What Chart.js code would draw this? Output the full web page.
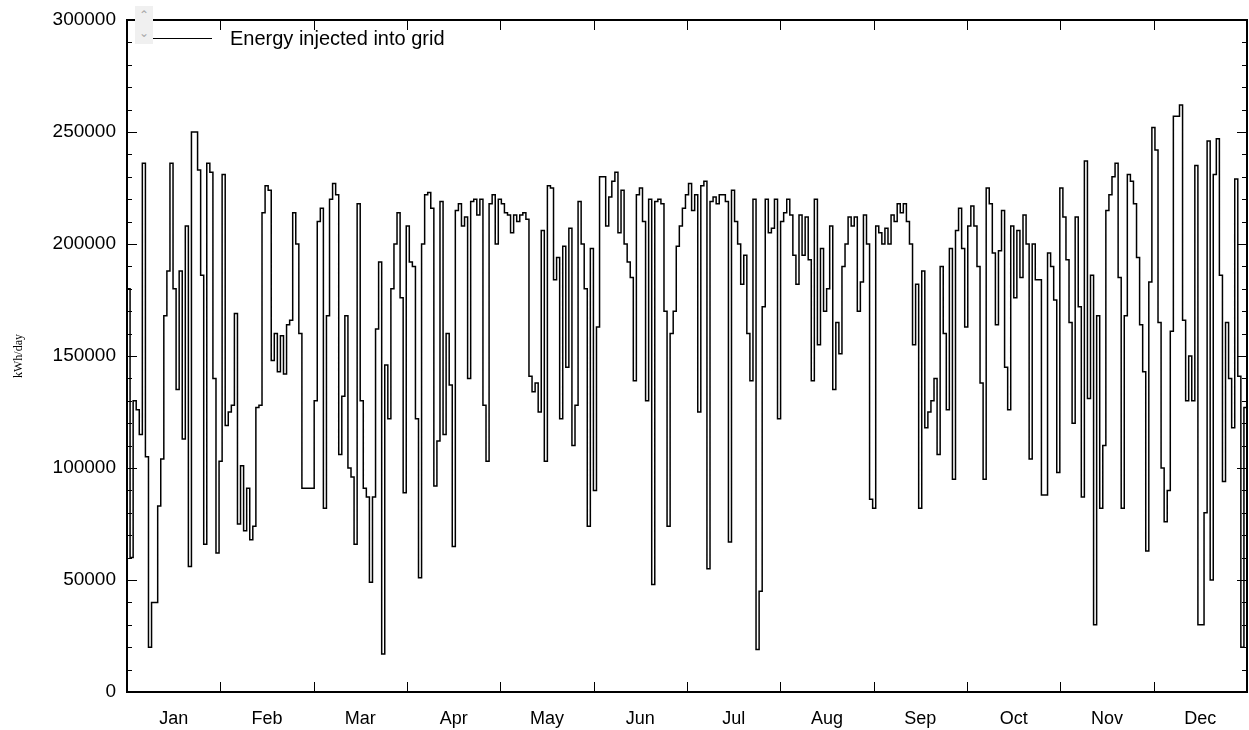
<!DOCTYPE html>
<html lang="en">
<head>
<meta charset="UTF-8">
<title>Energy injected into grid</title>
<script src="https://cdn.jsdelivr.net/npm/chart.js"></script>
<style>
  body {margin:0;background:#fff;font-family:'Liberation Sans',Arial,sans-serif;}
  .wrap {position:relative;width:1249px;height:730px;}
  .legend {position:absolute;left:152px;top:27px;display:flex;align-items:center;font-size:20px;color:#000;}
  .legend .ln {width:60px;height:0;border-top:1.5px solid #000;margin-right:18px;}
  .spin {position:absolute;left:135px;top:6px;width:18px;height:38px;background:#f0f0f0;color:#aaa;font-size:12px;line-height:18px;text-align:center;z-index:2;}
</style>
</head>
<body>
<div class="wrap">
  <canvas id="chart" width="1249" height="730"></canvas>
  <div class="spin">&#8963;<br>&#8964;</div>
  <div class="legend"><span class="ln"></span>Energy injected into grid</div>
</div>
<script>
// daily energy injected into grid, kWh/day
const jan = [180000,60000,130000,126000,115000,236000,105000,20000,40000,40000,83000,104000,168000,188000,236000,180000,135000,188000,113000,208000,56000,250000,250000,233000,186000,66000,236000,232000,140000,62000,103000];
const feb = [231000,119000,125000,128000,169000,75000,101000,72000,91000,68000,74000,127000,128000,214000,226000,224000,148000,160000,143000,159000,142000,164000,166000,214000,200000,160000,91000,91000];
const mar = [91000,91000,130000,210000,216000,82000,168000,220000,227000,222000,106000,132000,168000,100000,96000,66000,218000,130000,91000,87000,49000,87000,162000,192000,17000,146000,122000,180000,200000,214000,176000,89000];
const apr = [208000,192000,190000,122000,51000,200000,222000,223000,216000,92000,112000,219000,115000,160000,137000,65000,215000,218000,208000,212000,140000,219000,220000,213000,220000,128000,103000,218000,222000,200000,220000];
const may = [218000,214000,213000,205000,213000,210000,213000,214000,211000,141000,134000,138000,125000,206000,103000,226000,225000,184000,194000,122000,199000,145000,207000,110000,128000,219000,200000,180000,74000,198000,90000];
const jun = [163000,230000,230000,208000,221000,228000,232000,205000,224000,200000,192000,185000,139000,222000,225000,210000,130000,220000,48000,219000,220000,218000,170000,74000,160000,170000,199000,208000,216000,222000];
const jul = [227000,215000,222000,125000,226000,228000,55000,219000,221000,218000,222000,222000,219000,67000,224000,210000,200000,182000,195000,160000,139000,220000,19000,45000,172000,220000,205000,207000,220000,122000,210000];
const aug = [214000,220000,213000,195000,182000,213000,195000,212000,193000,139000,220000,155000,198000,170000,180000,208000,135000,165000,151000,190000,200000,212000,208000,212000,170000,183000,213000,200000,86000,82000];
const sep = [208000,205000,200000,207000,200000,213000,210000,218000,214000,218000,210000,200000,155000,182000,82000,188000,118000,125000,130000,140000,106000,190000,160000,126000,198000,95000,206000,216000,198000,163000];
const oct = [208000,217000,208000,190000,138000,95000,225000,218000,196000,164000,197000,215000,145000,126000,208000,176000,206000,185000,213000,200000,104000,200000,184000,184000,88000,88000,196000,190000,175000,98000,225000];
const nov = [212000,193000,165000,120000,212000,172000,87000,237000,131000,186000,30000,168000,82000,110000,215000,222000,230000,236000,185000,82000,168000,231000,228000,218000,194000,164000,143000,63000,183000,252000];
const dec = [242000,165000,100000,76000,90000,161000,257000,257000,262000,166000,130000,150000,130000,235000,30000,30000,80000,246000,50000,231000,247000,186000,94000,165000,140000,118000,229000,141000,20000,127000];

const monthLabels = ['Jan','Feb','Mar','Apr','May','Jun','Jul','Aug','Sep','Oct','Nov','Dec'];
const yTicks = [0,50000,100000,150000,200000,250000,300000];

const daily = [].concat(jan,feb,mar,apr,may,jun,jul,aug,sep,oct,nov,dec);
const nDays = daily.length;
const pts = daily.map((v,i)=>({x:i,y:v}));
pts.push({x:nDays,y:daily[nDays-1]}); // close the last step
const monthW = nDays/12;

// frame + inward tick marks like the original
const frameTicks = {
  id:'frameTicks',
  afterDraw(chart){
    const {ctx, chartArea:a, scales:{x,y}} = chart;
    ctx.save();
    ctx.strokeStyle='#000';
    ctx.lineWidth=1;
    ctx.beginPath();
    for(let v=0; v<=300000; v+=10000){
      const py = Math.round(y.getPixelForValue(v))+0.5;
      const len = v%50000===0 ? 10 : 5;
      ctx.moveTo(a.left,py); ctx.lineTo(a.left+len,py);
      ctx.moveTo(a.right,py); ctx.lineTo(a.right-len,py);
    }
    for(let m=1; m<12; m++){
      const px = Math.round(x.getPixelForValue(m*monthW))+0.5;
      ctx.moveTo(px,a.bottom); ctx.lineTo(px,a.bottom-10);
      ctx.moveTo(px,a.top); ctx.lineTo(px,a.top+10);
    }
    ctx.stroke();
    ctx.lineWidth=2;
    ctx.strokeRect(a.left,a.top,a.right-a.left,a.bottom-a.top);
    ctx.restore();
  }
};

new Chart(document.getElementById('chart'), {
  type:'line',
  data:{datasets:[{
    label:'Energy injected into grid',
    data:pts,
    stepped:true,
    borderColor:'#000',
    borderWidth:1.5,
    pointRadius:0,
    fill:false
  }]},
  options:{
    responsive:false,
    animation:false,
    layout:{padding:{top:20,right:2,left:0,bottom:0}},
    plugins:{legend:{display:false},tooltip:{enabled:false}},
    scales:{
      x:{
        type:'linear', min:0, max:nDays,
        grid:{display:false}, border:{display:false},
        afterBuildTicks:s=>{ s.ticks = monthLabels.map((m,i)=>({value:(i+0.5)*monthW})); },
        afterFit:s=>{ s.height = 38; },
        ticks:{autoSkip:false,maxRotation:0,padding:8,color:'#000',font:{family:'Liberation Sans',size:18},
          callback:(v,i)=>monthLabels[i]}
      },
      y:{
        min:0, max:300000,
        grid:{display:false}, border:{display:false},
        afterBuildTicks:s=>{ s.ticks = yTicks.map(v=>({value:v})); },
        afterFit:s=>{ s.width = 127; },
        title:{display:true,text:'kWh/day',color:'#000',font:{family:'Liberation Serif',size:12},padding:{top:12,bottom:0}},
        ticks:{padding:3,color:'#000',font:{family:'Liberation Sans',size:19},callback:v=>String(v)}
      }
    }
  },
  plugins:[frameTicks]
});
</script>
</body>
</html>
